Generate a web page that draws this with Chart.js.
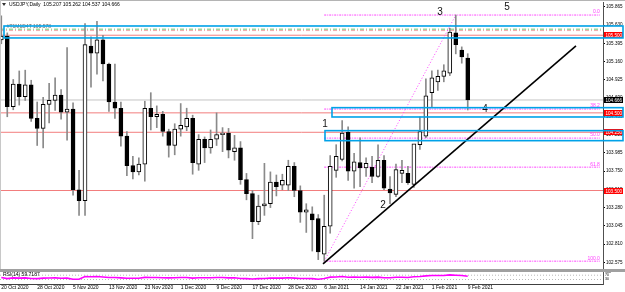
<!DOCTYPE html>
<html>
<head>
<meta charset="utf-8">
<script src="https://cdn.jsdelivr.net/npm/chart.js@4.4.1/dist/chart.umd.min.js"></script>
<style>
  html, body { margin: 0; padding: 0; background: #fff; }
  #wrap { position: relative; width: 625px; height: 292px; overflow: hidden; background: #fff; }
  canvas { position: absolute; left: 0; }
  .frame { position: absolute; }
</style>
</head>
<body>
<div id="wrap">
  <canvas id="mainChart" width="625" height="269" style="top:0"></canvas>
  <div class="frame" style="left:0;top:0;width:625px;height:1px;background:#b4b4b4"></div>
  <div class="frame" style="left:0;top:0;width:1px;height:269px;background:#c8c8c8"></div>
  <div class="frame" style="left:0;top:269px;width:625px;height:3px;background:#a0a0a0"></div>
  <canvas id="rsiChart" width="625" height="20" style="top:272px"></canvas>
</div>
<script>
// USDJPY, Daily - candles
const dates = [
  '20 Oct 2020','21 Oct 2020','22 Oct 2020','23 Oct 2020','26 Oct 2020','27 Oct 2020','28 Oct 2020','29 Oct 2020','30 Oct 2020',
  '2 Nov 2020','3 Nov 2020','4 Nov 2020','5 Nov 2020','6 Nov 2020','9 Nov 2020','10 Nov 2020','11 Nov 2020','12 Nov 2020','13 Nov 2020',
  '16 Nov 2020','17 Nov 2020','18 Nov 2020','19 Nov 2020','20 Nov 2020','23 Nov 2020','24 Nov 2020','25 Nov 2020','26 Nov 2020','27 Nov 2020','30 Nov 2020',
  '1 Dec 2020','2 Dec 2020','3 Dec 2020','4 Dec 2020','7 Dec 2020','8 Dec 2020','9 Dec 2020','10 Dec 2020','11 Dec 2020','14 Dec 2020',
  '15 Dec 2020','16 Dec 2020','17 Dec 2020','18 Dec 2020','21 Dec 2020','22 Dec 2020','23 Dec 2020','24 Dec 2020','28 Dec 2020','29 Dec 2020','30 Dec 2020','31 Dec 2020',
  '4 Jan 2021','5 Jan 2021','6 Jan 2021','7 Jan 2021','8 Jan 2021','11 Jan 2021','12 Jan 2021','13 Jan 2021','14 Jan 2021','15 Jan 2021',
  '18 Jan 2021','19 Jan 2021','20 Jan 2021','21 Jan 2021','22 Jan 2021','25 Jan 2021','26 Jan 2021','27 Jan 2021','28 Jan 2021','29 Jan 2021',
  '1 Feb 2021','2 Feb 2021','3 Feb 2021','4 Feb 2021','5 Feb 2021','8 Feb 2021','9 Feb 2021'
];
const opens = [
  105.44,105.49,104.58,104.87,104.71,104.86,104.43,104.30,104.61,
  104.66,104.73,104.51,104.55,103.51,103.37,105.36,105.27,105.44,105.13,
  104.64,104.56,104.20,103.82,103.74,103.84,104.56,104.45,104.48,104.26,104.08,
  104.29,104.32,104.43,103.84,104.16,104.05,104.16,104.22,104.24,104.00,
  104.05,103.64,103.46,103.10,103.30,103.33,103.61,103.57,103.57,103.81,103.50,103.22,
  103.20,103.14,102.68,103.04,103.76,103.90,104.25,103.75,103.86,103.79,
  103.80,103.68,103.89,103.52,103.45,103.72,103.72,103.58,104.09,104.20,
  104.76,104.90,104.97,105.01,105.53,105.31,105.207
];
const highs = [
  105.75,105.53,104.93,105.04,105.05,104.92,104.64,104.70,104.88,
  104.95,104.80,105.34,104.63,103.76,105.65,105.48,105.68,105.50,105.14,
  105.13,104.64,104.26,103.94,103.92,104.65,104.76,104.59,104.52,104.29,104.36,
  104.62,104.56,104.47,104.22,104.19,104.28,104.50,104.31,104.30,104.21,
  104.13,103.72,103.50,103.44,103.85,103.74,103.70,103.71,103.89,103.86,103.56,103.33,
  103.29,103.19,103.44,103.95,104.09,104.40,104.32,103.98,104.18,103.92,
  103.94,104.09,103.95,103.68,103.84,103.89,103.81,104.08,104.45,104.94,
  105.04,105.05,105.12,105.59,105.76,105.35,105.262
];
const lows = [
  105.39,104.45,104.54,104.60,104.66,104.39,104.08,104.05,104.37,
  104.53,104.42,104.15,103.44,103.18,103.18,104.83,105.00,104.91,104.52,
  104.43,104.07,103.69,103.65,103.70,103.62,104.28,104.31,104.20,103.93,103.96,
  104.20,104.27,103.71,103.76,103.86,103.98,104.08,104.00,103.92,103.89,
  103.58,103.38,102.88,103.06,103.18,103.28,103.43,103.51,103.50,103.42,103.09,102.96,
  102.72,102.61,102.59,102.95,103.67,103.88,103.63,103.53,103.55,103.68,
  103.60,103.67,103.51,103.33,103.42,103.60,103.58,103.54,104.03,104.18,
  104.58,104.79,104.90,104.98,105.26,105.14,104.537
];
const closes = [
  105.49,104.58,104.87,104.71,104.86,104.43,104.30,104.61,104.66,
  104.73,104.51,104.55,103.51,103.37,105.38,105.27,105.44,105.13,104.64,
  104.56,104.20,103.82,103.74,103.84,104.56,104.45,104.48,104.26,104.08,104.29,
  104.34,104.43,103.86,104.16,104.05,104.16,104.22,104.24,104.02,104.05,
  103.64,103.46,103.10,103.30,103.33,103.61,103.55,103.63,103.81,103.50,103.22,103.25,
  103.12,102.71,103.04,103.81,103.94,104.24,103.75,103.87,103.79,103.85,
  103.68,103.89,103.53,103.47,103.77,103.76,103.60,104.10,104.26,104.72,
  104.95,104.97,105.04,105.54,105.38,105.22,104.666
];
const rsiValues = [
  48,38,45,43,45,40,38,43,44,
  45,42,43,33,32,57,56,58,54,49,
  48,45,41,41,42,50,49,49,47,45,47,
  48,49,43,47,46,47,48,48,45,46,
  40,38,34,38,39,43,43,43,47,43,39,40,
  38,33,40,52,54,58,51,53,51,52,
  50,52,47,47,51,51,49,55,58,64,
  67,68,68,73,70,67,59.7187
];

// axes
const priceTicks = [105.865,105.630,105.395,105.160,104.925,104.690,104.455,104.220,103.985,103.750,103.515,103.280,103.045,102.810,102.575];
const dateTickIdx = [0,6,12,18,24,30,36,42,48,54,60,66,72,78];
const rsiTicks = [100,70,30];
const X_MIN = -0.217, X_MAX = 100.619;
const Y_MIN = 102.502, Y_MAX = 105.928;
const RSI_MIN = -12, RSI_MAX = 100;

// drawn objects
const redLevels = [105.500,104.500,104.250,103.500];
const lastPrice = 104.666;
const dashLevels = [105.578,105.560];
const dashLabel = '#T1M1D4T 105.578';
const fibHigh = 105.76, fibLow = 102.59;
const fibFrom = 54, fibPeak = 76, fibTo = 100.1;
const fibLevels = [0,38.2,50,61.8,100];
const trendX = [53.8,96.1];
const trendY = [102.554,105.362];
const zoneFrom = [0.45,55.3,54.13];
const zoneTop = [105.619,104.567,104.271];
const zoneBottom = [105.465,104.447,104.142];
const waveNames = ['1','2','3','4','5'];
const waveX = [54.13,63.83,73.36,80.89,84.57];
const waveY = [104.357,103.314,105.793,104.544,105.857];

const FONT = '"Liberation Sans", Arial, sans-serif';
const titleText = 'USDJPY,Daily  105.207 105.262 104.537 104.666';

function hLine(price, from, to, color, width, dash, order) {
  return {
    type: 'line',
    data: [{ x: from, y: price }, { x: to, y: price }],
    borderColor: color,
    borderWidth: width,
    borderDash: dash || [],
    pointRadius: 0,
    order: order
  };
}

const datasets = [];
// black trend line
datasets.push({
  type: 'line',
  data: trendX.map((v, i) => ({ x: v, y: trendY[i] })),
  borderColor: '#000',
  borderWidth: 1.6,
  pointRadius: 0,
  order: 0
});
// candle bodies
datasets.push({
  type: 'bar',
  data: opens.map((o, i) => ({ x: i, y: [o, closes[i]] })),
  backgroundColor: opens.map((o, i) => closes[i] >= o ? '#ffffff' : '#000000'),
  borderColor: '#000',
  borderWidth: 1,
  borderSkipped: false,
  barThickness: 4,
  minBarLength: 1,
  grouped: false,
  order: 1
});
// wicks
datasets.push({
  type: 'bar',
  data: lows.map((l, i) => ({ x: i, y: [l, highs[i]] })),
  backgroundColor: '#8a8a8a',
  barThickness: 1,
  grouped: false,
  order: 2
});
// fibonacci diagonal
datasets.push({
  type: 'line',
  data: [{ x: fibFrom, y: fibLow }, { x: fibPeak, y: fibHigh }],
  borderColor: '#ff40ff',
  borderWidth: 1,
  borderDash: [1, 2],
  pointRadius: 0,
  order: 3
});
fibLevels.forEach(f => {
  datasets.push(hLine(fibHigh - f / 100 * (fibHigh - fibLow), fibFrom, fibTo, '#ff40ff', 1, [2, 1, 1, 1], 4));
});
redLevels.forEach(p => datasets.push(hLine(p, X_MIN, X_MAX, '#f27d7d', 1, null, 5)));
datasets.push(hLine(dashLevels[0], X_MIN, X_MAX, '#9fd69f', 1.5, [4, 2, 1, 2], 5));
datasets.push(hLine(dashLevels[1], X_MIN, X_MAX, '#eeaaaa', 1, [4, 2, 1, 2], 5));
datasets.push(hLine(lastPrice, X_MIN, X_MAX, '#c4c4c4', 1, null, 6));

const mainOverlay = {
  id: 'mainOverlay',
  afterDatasetsDraw(chart) {
    const { ctx, scales: { x, y } } = chart;
    ctx.save();
    // fib captions
    ctx.font = '5px ' + FONT;
    ctx.fillStyle = '#ff40ff';
    ctx.textAlign = 'right';
    ctx.textBaseline = 'bottom';
    fibLevels.forEach(f => {
      const p = fibHigh - f / 100 * (fibHigh - fibLow);
      ctx.fillText(f.toFixed(1), x.getPixelForValue(fibTo), y.getPixelForValue(p) - 0.5);
    });
    // description of the dashed level
    ctx.fillStyle = '#6a6a6a';
    ctx.textAlign = 'left';
    ctx.fillText(dashLabel, x.getPixelForValue(0.9), y.getPixelForValue(dashLevels[0]) - 0.5);
    // wave numbers
    ctx.font = '10px ' + FONT;
    ctx.fillStyle = '#111';
    ctx.textAlign = 'center';
    ctx.textBaseline = 'middle';
    waveNames.forEach((n, k) => {
      ctx.fillText(n, x.getPixelForValue(waveX[k]), y.getPixelForValue(waveY[k]));
    });
    ctx.restore();
  },
  afterDraw(chart) {
    const { ctx, scales: { x, y }, chartArea } = chart;
    ctx.save();
    // price tags on the axis
    ctx.font = '4.6px ' + FONT;
    ctx.textAlign = 'left';
    ctx.textBaseline = 'middle';
    const tagLeft = chartArea.right + 1;
    const tagWidth = chart.width - tagLeft - 2;
    const tag = (p, bg) => {
      const yy = Math.round(y.getPixelForValue(p));
      ctx.fillStyle = bg;
      ctx.fillRect(tagLeft, yy - 3, tagWidth, 6);
      ctx.fillStyle = '#fff';
      ctx.fillText(p.toFixed(3), tagLeft + 1.5, yy + 0.5);
    };
    redLevels.forEach(p => tag(p, '#ff0000'));
    tag(lastPrice, '#000000');
    // rectangles
    ctx.strokeStyle = '#00a2e8';
    ctx.lineWidth = 1.6;
    zoneFrom.forEach((from, k) => {
      const x0 = x.getPixelForValue(from);
      const y0 = y.getPixelForValue(zoneTop[k]);
      const y1 = y.getPixelForValue(zoneBottom[k]);
      ctx.strokeRect(x0, y0, chart.width - 2 - x0, y1 - y0);
    });
    // title
    ctx.fillStyle = '#333';
    ctx.beginPath();
    ctx.moveTo(2, 3); ctx.lineTo(6, 3); ctx.lineTo(4, 6); ctx.closePath();
    ctx.fill();
    ctx.font = '5px ' + FONT;
    ctx.fillStyle = '#000';
    ctx.fillText(titleText, 9, 5);
    ctx.restore();
  }
};

new Chart(document.getElementById('mainChart'), {
  type: 'bar',
  data: { datasets: datasets },
  options: {
    responsive: false,
    animation: false,
    devicePixelRatio: 1,
    events: [],
    layout: { padding: { top: 2, bottom: 1, left: 0, right: 0 } },
    plugins: { legend: { display: false }, tooltip: { enabled: false } },
    scales: {
      x: { type: 'linear', min: X_MIN, max: X_MAX, offset: false, display: false },
      y: {
        position: 'right',
        min: Y_MIN,
        max: Y_MAX,
        grid: { drawOnChartArea: false, drawTicks: true, tickLength: 2, color: '#000' },
        border: { display: true, color: '#505050' },
        ticks: {
          font: { family: FONT, size: 4.6 },
          color: '#000',
          padding: 1,
          autoSkip: false,
          callback: v => Number(v).toFixed(3)
        },
        afterBuildTicks: s => { s.ticks = priceTicks.map(v => ({ value: v })); },
        afterFit: s => { s.width = 22; s.paddingTop = 0; s.paddingBottom = 0; }
      }
    }
  },
  plugins: [mainOverlay]
});

// RSI window
const rsiOverlay = {
  id: 'rsiOverlay',
  afterDraw(chart) {
    const { ctx, chartArea } = chart;
    ctx.save();
    ctx.font = '5px ' + FONT;
    ctx.fillStyle = '#000';
    ctx.textBaseline = 'middle';
    ctx.fillText('RSI(14) ' + rsiValues[rsiValues.length - 1].toFixed(4), 3, chartArea.top + 2.5);
    ctx.restore();
  }
};

new Chart(document.getElementById('rsiChart'), {
  type: 'line',
  data: {
    datasets: [
      {
        data: rsiValues.map((v, i) => ({ x: i, y: v })),
        borderColor: '#ff00ff',
        borderWidth: 1.6,
        pointRadius: 0,
        order: 0
      },
      hLine(70, X_MIN, X_MAX, '#b8b8b8', 1, [1, 2], 1),
      hLine(30, X_MIN, X_MAX, '#b8b8b8', 1, [1, 2], 1)
    ]
  },
  options: {
    responsive: false,
    animation: false,
    devicePixelRatio: 1,
    events: [],
    layout: { padding: 0 },
    plugins: { legend: { display: false }, tooltip: { enabled: false } },
    scales: {
      x: {
        type: 'linear',
        min: X_MIN,
        max: X_MAX,
        offset: false,
        grid: { drawOnChartArea: false, drawTicks: true, tickLength: 1, color: '#000' },
        border: { display: true, color: '#404040' },
        ticks: {
          font: { family: FONT, size: 5 },
          color: '#000',
          padding: 0,
          align: 'start',
          maxRotation: 0,
          autoSkip: false,
          callback: v => dates[v] || ''
        },
        afterBuildTicks: s => { s.ticks = dateTickIdx.map(v => ({ value: v })); },
        afterFit: s => { s.height = 8; s.paddingLeft = 0; s.paddingRight = 0; }
      },
      y: {
        position: 'right',
        min: RSI_MIN,
        max: RSI_MAX,
        grid: { drawOnChartArea: false, drawTicks: false },
        border: { display: true, color: '#505050' },
        ticks: { font: { family: FONT, size: 3.5 }, color: '#000', padding: 2, autoSkip: false },
        afterBuildTicks: s => { s.ticks = rsiTicks.map(v => ({ value: v })); },
        afterFit: s => { s.width = 22; s.paddingTop = 0; s.paddingBottom = 0; }
      }
    }
  },
  plugins: [rsiOverlay]
});
</script>
</body>
</html>
